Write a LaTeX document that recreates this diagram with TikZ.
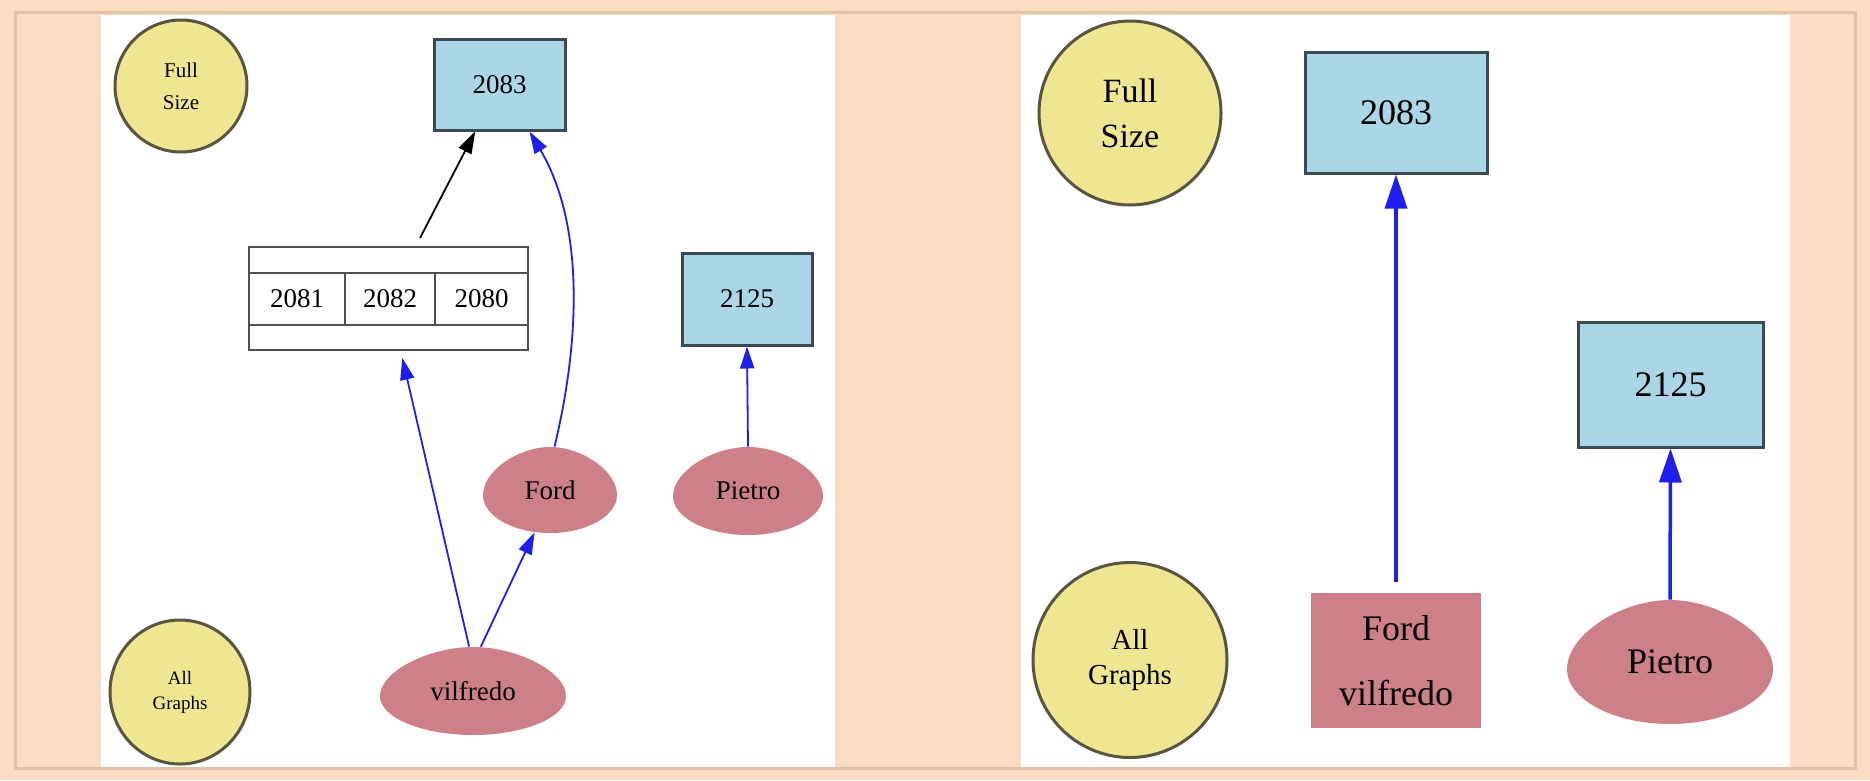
\documentclass[tikz,border=0pt]{standalone}
\usepackage{fontspec}
\setmainfont{Liberation Serif}
\usetikzlibrary{shapes.geometric,arrows.meta,positioning}

\definecolor{peach}{RGB}{249,220,195}
\definecolor{frameline}{RGB}{226,194,166}
\definecolor{boxblue}{RGB}{170,214,230}
\definecolor{boxline}{RGB}{58,74,85}
\definecolor{btnyellow}{RGB}{239,230,145}
\definecolor{btnline}{RGB}{90,85,64}
\definecolor{eggpink}{RGB}{206,128,136}
\definecolor{cellline}{RGB}{80,80,80}
\definecolor{linkblue}{RGB}{30,30,240}

\newcommand{\gvsmall}{\fontsize{27}{30}\selectfont}
\newcommand{\gvlarge}{\fontsize{36}{40}\selectfont}

% egg outline: centre, half width, half height
\newcommand{\eggat}[3]{%
  \fill[eggpink, shift={#1}] (0,-#3) .. controls (0.47*#2,-#3) and (#2,-0.45*#3) .. (#2,0.12*#3) .. controls (#2,0.6*#3) and (0.55*#2,#3) .. (0,#3) .. controls (-0.55*#2,#3) and (-#2,0.6*#3) .. (-#2,0.12*#3) .. controls (-#2,-0.45*#3) and (-0.47*#2,-#3) .. (0,-#3) -- cycle ;}

\tikzset{every picture/.style={line width=1pt},
  idbox/.style={draw=boxline, fill=boxblue, line width=3pt, inner sep=0pt},
  sizebtn/.style={ellipse, draw=btnline, fill=btnyellow, line width=3pt, inner sep=0pt, align=center},
  eggnode/.style={ellipse, inner sep=0pt, align=center},
  cell/.style={draw=cellline, line width=2.5pt, inner sep=0pt, outer sep=0pt, font=\gvsmall},
  link/.style={draw=linkblue, line width=1.8pt, -{Triangle[length=22pt,width=14pt,fill=linkblue]}},
  biglink/.style={draw=linkblue, line width=3.5pt, -{Triangle[length=34pt,width=22pt,fill=linkblue]}},
  darklink/.style={draw=black, line width=1.8pt, -{Triangle[length=22pt,width=14pt]}}
}

\begin{document}
\begin{tikzpicture}[x=1pt,y=1pt,yscale=-1,xscale=1]
\useasboundingbox (0,0) rectangle (1870,780);

%Shape: Rectangle [background]
    \fill[peach] (0,0) rectangle (1870,780);
    \draw[frameline, line width=3pt] (15,12) rectangle (1855,768);
%Shape: Rectangle [panels]
    \fill[white] (101,15) rectangle (835,767);
    \fill[white] (1021,15) rectangle (1790,767);

%%%% left panel
    \node[sizebtn, minimum width=132pt, minimum height=132pt, font=\fontsize{21}{32}\selectfont] (fullL) at (181,86) {Full\\Size};
    \node[sizebtn, minimum width=140pt, minimum height=144pt, font=\fontsize{19}{25}\selectfont] (allL) at (180,692) {All\\Graphs};

    \node[idbox, minimum width=131pt, minimum height=91pt, font=\gvsmall] (n2083L) at (499.5,84.5) {2083};
    \node[idbox, minimum width=130pt, minimum height=92pt, font=\gvsmall] (n2125L) at (747,299) {2125};

%Record
    \node[cell, minimum width=279pt, minimum height=26pt, anchor=north west] (rtop) at (249,247) {};
    \node[cell, minimum width=96pt, minimum height=52pt, anchor=north west] (c2081) at (rtop.south west) {2081};
    \node[cell, minimum width=90pt, minimum height=52pt, right=0pt of c2081] (c2082) {2082};
    \node[cell, minimum width=93pt, minimum height=52pt, right=0pt of c2082] (c2080) {2080};
    \node[cell, minimum width=279pt, minimum height=25pt, anchor=north west] (rbot) at (c2081.south west) {};
    \coordinate (recport) at (420,238);

%Eggs
    \eggat{(550,490)}{67}{43}
    \node[eggnode, minimum width=134pt, minimum height=86pt, font=\gvsmall] (fordL) at (550,490) {Ford};
    \eggat{(748,491)}{75}{44}
    \node[eggnode, minimum width=150pt, minimum height=88pt, font=\gvsmall] (pietroL) at (748,491) {Pietro};
    \eggat{(473,691)}{93}{44}
    \node[eggnode, minimum width=186pt, minimum height=88pt, font=\gvsmall] (vilfL) at (473,691) {vilfredo};

%Edges
    \draw[darklink] (recport) -- (n2083L);
    \draw[link, shorten >=8pt] (vilfL.95) -- ([xshift=12pt]rbot.south);
    \draw[link] (vilfL.80) -- (fordL.250);
    \draw[link] (fordL.84) .. controls +(28,-117) and +(52,88) .. ([xshift=-37pt]n2083L.south east);
    \draw[link] (pietroL.north) -- (n2125L.south);

%%%% right panel
    \node[sizebtn, minimum width=182pt, minimum height=184pt, font=\fontsize{34}{45}\selectfont] (fullR) at (1130,113) {Full\\Size};
    \node[sizebtn, minimum width=194pt, minimum height=195pt, font=\fontsize{29}{35}\selectfont] (allR) at (1130,660) {All\\Graphs};

    \node[idbox, minimum width=182pt, minimum height=121pt, font=\gvlarge] (n2083R) at (1396,112.5) {2083};
    \node[idbox, minimum width=185pt, minimum height=125pt, font=\gvlarge] (n2125R) at (1670.5,384.5) {2125};

    \node[fill=eggpink, minimum width=170pt, minimum height=135pt, inner sep=0pt, align=center, font=\fontsize{36}{65}\selectfont] (fordvilf) at (1396,660.5) {Ford\\vilfredo};

    \eggat{(1670,662)}{103}{62}
    \node[eggnode, minimum width=206pt, minimum height=124pt, font=\gvlarge] (pietroR) at (1670,662) {Pietro};

    \draw[biglink, shorten <=11pt] (fordvilf.north) -- (n2083R.south);
    \draw[biglink] (pietroR.north) -- (n2125R.south);

\end{tikzpicture}
\end{document}
